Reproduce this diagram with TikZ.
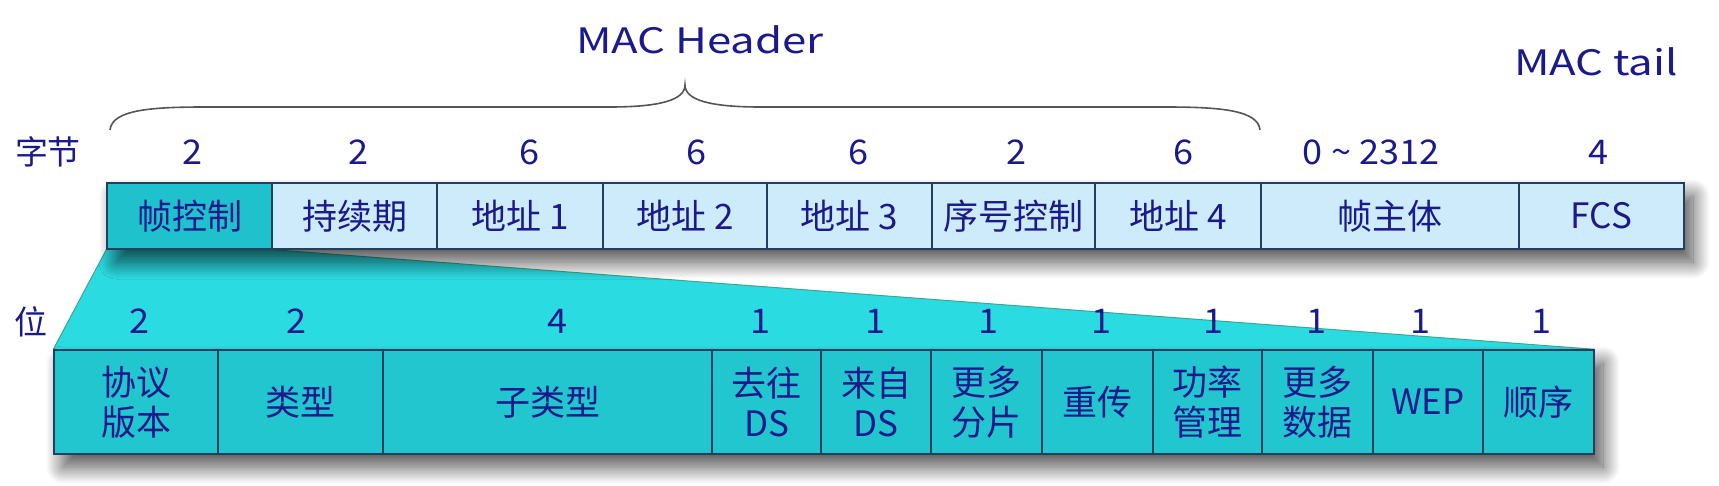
\documentclass[tikz,border=0pt]{standalone}
\usepackage{fontspec}
\setmainfont{Noto Sans CJK SC}
\newfontfamily\bigfont[FakeStretch=1.25]{Noto Sans CJK SC}
\newfontfamily\numfont[FakeStretch=1.06]{Noto Sans CJK SC}
\usetikzlibrary{shadows.blur}
\definecolor{txt}{HTML}{1A1A8C}
\definecolor{topfill}{HTML}{CDEBFB}
\definecolor{fcfill}{HTML}{1FC2CC}
\definecolor{botfill}{HTML}{21C6CE}
\definecolor{trap}{HTML}{2ADBE1}
\definecolor{edge}{HTML}{22405E}
\definecolor{bracec}{HTML}{555555}
\definecolor{trapedge}{HTML}{3AA88E}
\pgfdeclarelayer{bg}
\pgfsetlayers{bg,main}
\begin{document}
\begin{tikzpicture}[x=1pt,y=-1pt,
  cellbase/.style={draw=edge, line width=1.4pt, inner sep=0pt, text=txt, align=center,
     font=\fontsize{35}{40}\selectfont},
  tcell/.style={cellbase, fill=topfill, minimum height=66pt},
  fcell/.style={cellbase, fill=fcfill, minimum height=66pt},
  bcell/.style={cellbase, fill=botfill, minimum height=104pt},
  numlab/.style={text=txt, inner sep=0pt, font=\numfont\fontsize{34}{40}\selectfont},
  cjklab/.style={text=txt, inner sep=0pt, font=\fontsize{33}{38}\selectfont},
  biglab/.style={text=txt, inner sep=0pt, font=\bigfont\fontsize{35}{42}\selectfont},
  rowshadow/.style={blur shadow={shadow xshift=9pt, shadow yshift=-13pt, shadow blur radius=17pt, shadow opacity=70, shadow blur steps=24}},
]
\useasboundingbox (0,0) rectangle (1719,486);

% bottom row shadow
\path[rowshadow, fill=botfill] (54,350) rectangle (1594,454);
\node[bcell, minimum width=164pt] (b1) at (136,402) {协议\\版本};
\node[bcell, minimum width=165pt] (b2) at (300.5,402) {类型};
\node[bcell, minimum width=329pt] (b3) at (547.5,402) {子类型};
\node[bcell, minimum width=109pt] (b4) at (766.5,402) {去往\\DS};
\node[bcell, minimum width=110pt] (b5) at (876,402) {来自\\DS};
\node[bcell, minimum width=111pt] (b6) at (986.5,402) {更多\\分片};
\node[bcell, minimum width=111pt] (b7) at (1097.5,402) {重传};
\node[bcell, minimum width=109pt] (b8) at (1207.5,402) {功率\\管理};
\node[bcell, minimum width=111pt] (b9) at (1317.5,402) {更多\\数据};
\node[bcell, minimum width=110pt] (b10) at (1428,402) {WEP};
\node[bcell, minimum width=111pt] (b11) at (1538.5,402) {顺序};

% top row shadow
\path[rowshadow, fill=topfill] (107,183) rectangle (1684,249);
\node[fcell, minimum width=165pt] (t1) at (189.5,216) {帧控制};
\node[tcell, minimum width=165pt] (t2) at (354.5,216) {持续期};
\node[tcell, minimum width=166pt] (t3) at (520,216) {地址 1};
\node[tcell, minimum width=164pt] (t4) at (685,216) {地址 2};
\node[tcell, minimum width=165pt] (t5) at (849.5,216) {地址 3};
\node[tcell, minimum width=163pt] (t6) at (1013.5,216) {序号控制};
\node[tcell, minimum width=166pt] (t7) at (1178,216) {地址 4};
\node[tcell, minimum width=258pt] (t8) at (1390,216) {帧主体};
\node[tcell, minimum width=165pt] (t9) at (1601.5,216) {FCS};

% expansion trapezoid
\begin{pgfonlayer}{bg}
\fill[trap] (t1.south west) -- (t1.south east) -- (b11.north east) -- (b1.north west) -- cycle;
\draw[draw=trapedge, line width=1pt] (t1.south west) -- (b1.north west);
\draw[draw=trapedge, line width=1pt] (t1.south east) -- (b11.north east);
\end{pgfonlayer}

% labels
\node[biglab] (mach) at (700,40) {MAC Header};
\node[biglab] (mact) at (1596,62) {MAC tail};
\node[cjklab] (zj) at (48,152) {字节};
\node[cjklab] (wei) at (31,322) {位};

\node[numlab] (n1) at (192,152) {2};
\node[numlab] (n2) at (358,152) {2};
\node[numlab] (n3) at (529,152) {6};
\node[numlab] (n4) at (696,152) {6};
\node[numlab] (n5) at (858,152) {6};
\node[numlab] (n6) at (1016,152) {2};
\node[numlab] (n7) at (1183,152) {6};
\node[numlab] (n8) at (1371,152) {0 \textasciitilde{} 2312};
\node[numlab] (n9) at (1598,152) {4};

\node[numlab] (m1) at (139,321) {2};
\node[numlab] (m2) at (296,321) {2};
\node[numlab] (m3) at (557,321) {4};
\node[numlab] (m4) at (760,321) {1};
\node[numlab] (m5) at (875,321) {1};
\node[numlab] (m6) at (988,321) {1};
\node[numlab] (m7) at (1101,321) {1};
\node[numlab] (m8) at (1213,321) {1};
\node[numlab] (m9) at (1316,321) {1};
\node[numlab] (m10) at (1420,321) {1};
\node[numlab] (m11) at (1541,321) {1};

% brace
\coordinate (bl) at (110,130);
\coordinate (br) at (1260,130);
\coordinate (btip) at (685,85);
\draw[bracec, line width=1.6pt]
  (bl) .. controls (112,110) and (150,107) .. (205,107) -- (610,107)
  .. controls (660,107) and (685,100) .. (btip)
  .. controls (685,100) and (710,107) .. (760,107) -- (1165,107)
  .. controls (1220,107) and (1258,110) .. (br);
\end{tikzpicture}
\end{document}
